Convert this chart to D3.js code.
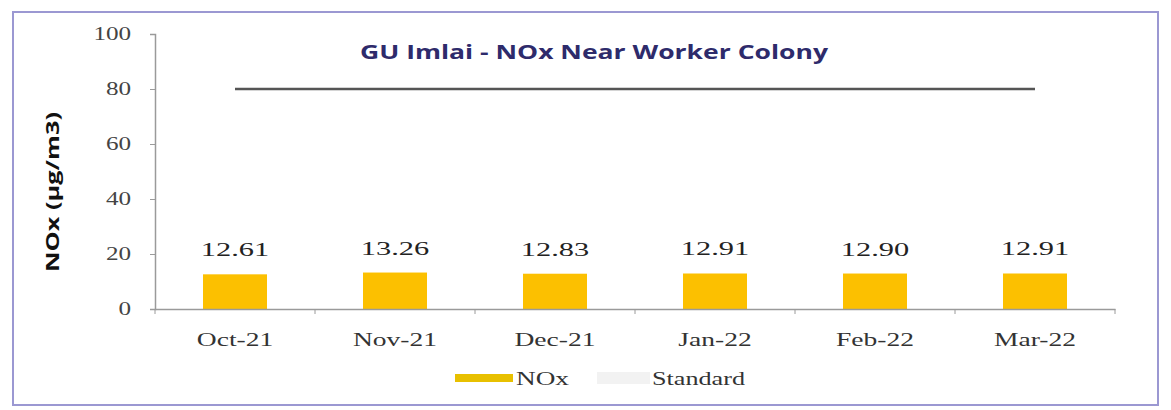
<!DOCTYPE html>
<html>
<head>
<meta charset="utf-8">
<script src="https://cdn.jsdelivr.net/npm/d3@7"></script>
<style>
  body { margin: 0; background: #fff; }
</style>
</head>
<body>
<div id="chart"></div>
<script>
// chart data
const months = ["Oct-21", "Nov-21", "Dec-21", "Jan-22", "Feb-22", "Mar-22"];
const noxValues = [12.61, 13.26, 12.83, 12.91, 12.90, 12.91];
const standardValues = [80, 80, 80, 80, 80, 80];
const yTicks = [0, 20, 40, 60, 80, 100];

const width = 1171, height = 410;
const serif = "Liberation Serif, serif";
const sans = "Open Sans, sans-serif";

let svg = d3.select("#chart").append("svg")
  .attr("width", width)
  .attr("height", height);

// frame round the chart
svg.append("rect")
  .attr("x", 13).attr("y", 12)
  .attr("width", 1145).attr("height", 393)
  .attr("fill", "#fff")
  .attr("stroke", "#9b98d2")
  .attr("stroke-width", 2);

let x = d3.scaleBand().domain(months).range([155, 1115]).paddingInner(0).paddingOuter(0);
let y = d3.scaleLinear().domain([0, 100]).range([309, 34]);

// y axis
let yAxis = svg.append("g")
  .attr("transform", "translate(155,0)")
  .call(d3.axisLeft(y).tickValues(yTicks).tickSize(5));
yAxis.select(".domain").attr("stroke", "#9a9a9a").attr("stroke-width", 1.5);
yAxis.selectAll(".tick line").attr("stroke", "#9a9a9a");
yAxis.selectAll(".tick text")
  .attr("x", -17)
  .attr("transform", "scale(1.4,1)")
  .style("font-family", serif)
  .style("font-size", "18px")
  .attr("fill", "#444");

// bars
svg.append("g").selectAll("rect")
  .data(noxValues)
  .enter()
  .append("rect")
  .attr("x", (d, i) => x(months[i]) + x.bandwidth() * 0.3)
  .attr("width", x.bandwidth() * 0.4)
  .attr("y", d => y(d))
  .attr("height", d => y(0) - y(d))
  .attr("fill", "#fcc000");

// x axis
let xAxis = svg.append("g")
  .attr("transform", "translate(0,309)")
  .call(d3.axisBottom(x).tickSize(0).tickPadding(24));
xAxis.select(".domain").attr("stroke", "#9a9a9a").attr("stroke-width", 1.5);
xAxis.selectAll(".tick text")
  .attr("transform", "scale(1.45,1)")
  .style("font-family", serif)
  .style("font-size", "19px")
  .attr("fill", "#333");
// tick marks at band edges
xAxis.selectAll(".edge")
  .data(d3.range(months.length + 1))
  .enter()
  .append("line")
  .attr("x1", i => 155 + i * x.step())
  .attr("x2", i => 155 + i * x.step())
  .attr("y1", 0).attr("y2", 5)
  .attr("stroke", "#9a9a9a");

// standard line
let line = d3.line()
  .x((d, i) => x(months[i]) + x.bandwidth() / 2)
  .y(d => y(d));
svg.append("path")
  .datum(standardValues)
  .attr("d", line)
  .attr("fill", "none")
  .attr("stroke", "#555")
  .attr("stroke-width", 2.5);

// value labels
svg.append("g").selectAll("text")
  .data(noxValues)
  .enter()
  .append("text")
  .attr("transform", (d, i) => `translate(${x(months[i]) + x.bandwidth() / 2},${y(d) - 18}) scale(1.6,1)`)
  .attr("text-anchor", "middle")
  .style("font-family", serif)
  .style("font-size", "19px")
  .attr("fill", "#222")
  .text(d => d.toFixed(2));

// title
svg.append("text")
  .attr("x", 360).attr("y", 59)
  .attr("textLength", 468)
  .attr("lengthAdjust", "spacingAndGlyphs")
  .style("font-family", sans)
  .style("font-weight", "bold")
  .style("font-size", "20px")
  .attr("fill", "#2e2b6b")
  .text("GU Imlai - NOx Near Worker Colony");

// y axis title
svg.append("text")
  .attr("transform", "translate(59,272) rotate(-90)")
  .attr("textLength", 160)
  .attr("lengthAdjust", "spacingAndGlyphs")
  .style("font-family", sans)
  .style("font-weight", "bold")
  .style("font-size", "18px")
  .attr("fill", "#111")
  .text("NOx (µg/m3)");

// legend
let legend = svg.append("g");
legend.append("line")
  .attr("x1", 455).attr("x2", 513)
  .attr("y1", 378).attr("y2", 378)
  .attr("stroke", "#e8c000").attr("stroke-width", 8);
legend.append("text")
  .attr("x", 516).attr("y", 385)
  .attr("textLength", 53)
  .attr("lengthAdjust", "spacingAndGlyphs")
  .style("font-family", serif)
  .style("font-size", "19px")
  .attr("fill", "#333")
  .text("NOx");
legend.append("line")
  .attr("x1", 597).attr("x2", 650)
  .attr("y1", 378).attr("y2", 378)
  .attr("stroke", "#f2f2f2").attr("stroke-width", 12);
legend.append("text")
  .attr("x", 652).attr("y", 385)
  .attr("textLength", 93)
  .attr("lengthAdjust", "spacingAndGlyphs")
  .style("font-family", serif)
  .style("font-size", "19px")
  .attr("fill", "#333")
  .text("Standard");
</script>
</body>
</html>
